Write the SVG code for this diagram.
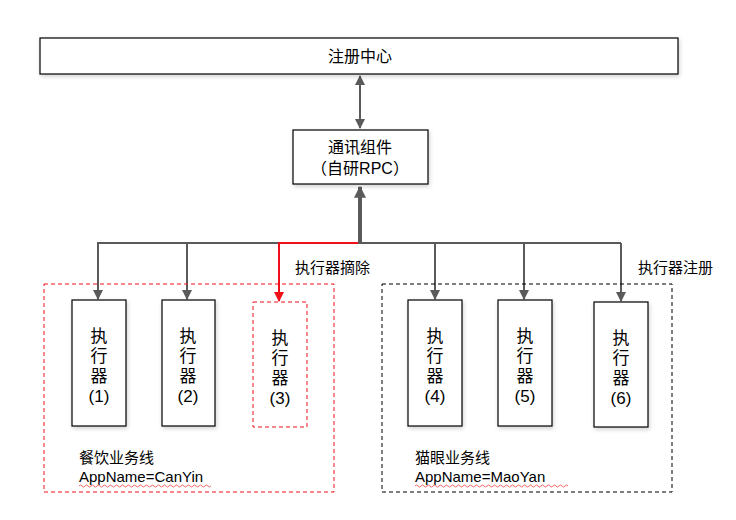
<svg xmlns="http://www.w3.org/2000/svg" width="736" height="520" viewBox="0 0 736 520">
<style>
.box{fill:#fff;stroke:#000;stroke-width:1.2}
.t{font-family:"Liberation Sans","Noto Sans CJK SC",sans-serif;fill:#000}
.c{font-size:16px;text-anchor:middle}
.e{font-size:17px;text-anchor:middle}
.l{font-size:15px}
.g{stroke:#5a5a5a;stroke-width:2;fill:none}
.r{stroke:#f0101a;stroke-width:2;fill:none}
.sq{stroke:#f04040;stroke-width:0.8;fill:none}
</style>
<defs>
<marker id="ag" viewBox="0 0 10 10" refX="9" refY="5" markerWidth="5" markerHeight="5" orient="auto-start-reverse" markerUnits="strokeWidth"><path d="M0,0 L10,5 L0,10 z" fill="#5a5a5a"/></marker>
<marker id="agt" viewBox="0 0 10 10" refX="9" refY="5" markerWidth="3" markerHeight="3" orient="auto" markerUnits="strokeWidth"><path d="M0,0 L10,5 L0,10 z" fill="#5a5a5a"/></marker>
<marker id="ar" viewBox="0 0 10 10" refX="9" refY="5" markerWidth="5" markerHeight="5" orient="auto" markerUnits="strokeWidth"><path d="M0,0 L10,5 L0,10 z" fill="#f0101a"/></marker>
<filter id="sh" x="-20%" y="-20%" width="140%" height="140%"><feDropShadow dx="1" dy="2" stdDeviation="2" flood-color="#000" flood-opacity="0.18"/></filter>
</defs>
<rect width="736" height="520" fill="#fff"/>

<g id="connectors">
<line class="g" x1="360" y1="76" x2="360" y2="128" marker-start="url(#ag)" marker-end="url(#ag)"/>
<line x1="360" y1="243" x2="360" y2="187" stroke="#5a5a5a" stroke-width="4" marker-end="url(#agt)"/>
<polyline class="g" points="98,299 98,243 360,243"/>
<line class="g" x1="98" y1="243" x2="98" y2="299" marker-end="url(#ag)"/>
<line class="g" x1="187" y1="243" x2="187" y2="299" marker-end="url(#ag)"/>
<polyline class="g" points="358,243 621,243"/>
<line class="g" x1="435" y1="243" x2="435" y2="299" marker-end="url(#ag)"/>
<line class="g" x1="524" y1="243" x2="524" y2="299" marker-end="url(#ag)"/>
<line class="g" x1="621" y1="243" x2="621" y2="301" marker-end="url(#ag)"/>
<polyline class="r" points="358,243 279,243 279,301" marker-end="url(#ar)"/>
<text class="t l" x="295" y="273">执行器摘除</text>
<text class="t l" x="638" y="273">执行器注册</text>
</g>

<g id="registry">
<rect class="box" x="40" y="38" width="638" height="36" filter="url(#sh)"/>
<text class="t c" x="360" y="62">注册中心</text>
</g>

<g id="rpc">
<rect class="box" x="293" y="130" width="135" height="54" filter="url(#sh)"/>
<text class="t c" x="360" y="153">通讯组件</text>
<text class="t c" x="360" y="174">（自研RPC）</text>
</g>

<g id="group-canyin">
<rect x="44" y="284" width="290" height="208" fill="none" stroke="#f0101a" stroke-width="1" stroke-dasharray="4,3"/>
<text class="t l" x="79" y="463">餐饮业务线</text>
<text class="t l" x="79" y="482">AppName=CanYin</text>
<path class="sq" d="M79,486 q1.5,-2 3,0 t3,0 t3,0 t3,0 t3,0 t3,0 t3,0 t3,0 t3,0 t3,0 t3,0 t3,0 t3,0 t3,0 t3,0 t3,0 t3,0 t3,0 t3,0 t3,0 t3,0 t3,0 t3,0 t3,0 t3,0 t3,0 t3,0 t3,0 t3,0 t3,0 t3,0 t3,0 t3,0 t3,0 t3,0 t3,0 t3,0 t3,0 t3,0 t3,0 t3,0 t3,0 t3,0 t3,0"/>
</g>

<g id="group-maoyan">
<rect x="382" y="284" width="290" height="208" fill="none" stroke="#000" stroke-width="1" stroke-dasharray="4,3"/>
<text class="t l" x="415" y="463">猫眼业务线</text>
<text class="t l" x="415" y="482">AppName=MaoYan</text>
<path class="sq" d="M415,486 q1.5,-2 3,0 t3,0 t3,0 t3,0 t3,0 t3,0 t3,0 t3,0 t3,0 t3,0 t3,0 t3,0 t3,0 t3,0 t3,0 t3,0 t3,0 t3,0 t3,0 t3,0 t3,0 t3,0 t3,0 t3,0 t3,0 t3,0 t3,0 t3,0 t3,0 t3,0 t3,0 t3,0 t3,0 t3,0 t3,0 t3,0 t3,0 t3,0 t3,0 t3,0 t3,0 t3,0 t3,0 t3,0 t3,0 t3,0 t3,0 t3,0 t3,0 t3,0 t3,0"/>
</g>

<g id="executor1">
<rect class="box" x="72" y="300" width="54" height="126" filter="url(#sh)"/>
<text class="t e" x="99" y="342">执</text><text class="t e" x="99" y="362">行</text><text class="t e" x="99" y="382">器</text><text class="t e" x="99" y="402">(1)</text>
</g>
<g id="executor2">
<rect class="box" x="162" y="300" width="53" height="126" filter="url(#sh)"/>
<text class="t e" x="188" y="342">执</text><text class="t e" x="188" y="362">行</text><text class="t e" x="188" y="382">器</text><text class="t e" x="188" y="402">(2)</text>
</g>
<g id="executor3">
<rect x="253" y="302" width="54" height="125" fill="#fff" stroke="#f0101a" stroke-width="1" stroke-dasharray="4,3"/>
<text class="t e" x="280" y="344">执</text><text class="t e" x="280" y="364">行</text><text class="t e" x="280" y="384">器</text><text class="t e" x="280" y="404">(3)</text>
</g>
<g id="executor4">
<rect class="box" x="408" y="300" width="54" height="126" filter="url(#sh)"/>
<text class="t e" x="435" y="342">执</text><text class="t e" x="435" y="362">行</text><text class="t e" x="435" y="382">器</text><text class="t e" x="435" y="402">(4)</text>
</g>
<g id="executor5">
<rect class="box" x="498" y="300" width="54" height="126" filter="url(#sh)"/>
<text class="t e" x="525" y="342">执</text><text class="t e" x="525" y="362">行</text><text class="t e" x="525" y="382">器</text><text class="t e" x="525" y="402">(5)</text>
</g>
<g id="executor6">
<rect class="box" x="594" y="302" width="54" height="125" filter="url(#sh)"/>
<text class="t e" x="621" y="344">执</text><text class="t e" x="621" y="364">行</text><text class="t e" x="621" y="384">器</text><text class="t e" x="621" y="404">(6)</text>
</g>
</svg>
